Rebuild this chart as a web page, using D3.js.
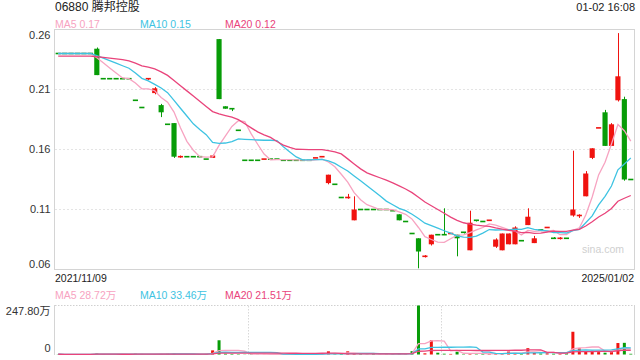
<!DOCTYPE html>
<html>
<head>
<meta charset="utf-8">
<script src="https://cdn.jsdelivr.net/npm/d3@7/dist/d3.min.js"></script>
<style>
  body { margin: 0; background: #fff; }
  text { font-family: "Liberation Sans", Arial, "Noto Sans CJK SC", sans-serif; }
</style>
</head>
<body>
<div id="chart"></div>
<script>
// header texts
const stockTitle = "06880 腾邦控股";
const timeStamp = "01-02 16:08";
const dateLabels = ["2021/11/09", "2025/01/02"];
const priceTicks = [0.26, 0.21, 0.16, 0.11, 0.06];

// daily candles, oldest first
const opens = [
  0.240, 0.240, 0.240, 0.240, 0.240, 0.240, 0.244, 0.219, 0.219, 0.219,
  0.219, 0.219, 0.201, 0.195, 0.218, 0.207, 0.197, 0.181, 0.182, 0.153,
  0.154, 0.154, 0.154, 0.152, 0.153, 0.252, 0.196, 0.194, 0.176, 0.151,
  0.151, 0.151, 0.152, 0.152, 0.152, 0.151, 0.151, 0.151, 0.151, 0.151,
  0.153, 0.154, 0.132, 0.131, 0.120, 0.119, 0.101, 0.110, 0.110, 0.110,
  0.110, 0.110, 0.109, 0.106, 0.100, 0.090, 0.086, 0.070, 0.081, 0.089,
  0.089, 0.090, 0.089, 0.091, 0.076, 0.101, 0.100, 0.101, 0.079, 0.076,
  0.081, 0.081, 0.084, 0.097, 0.082, 0.093, 0.095, 0.086, 0.085, 0.086,
  0.105, 0.104, 0.121, 0.153, 0.178, 0.191, 0.163, 0.201, 0.202, 0.135
];
const highs = [
  0.240, 0.240, 0.240, 0.240, 0.240, 0.240, 0.245, 0.219, 0.219, 0.219,
  0.219, 0.219, 0.201, 0.195, 0.219, 0.212, 0.198, 0.181, 0.182, 0.155,
  0.154, 0.154, 0.154, 0.152, 0.156, 0.252, 0.196, 0.194, 0.176, 0.151,
  0.151, 0.151, 0.152, 0.152, 0.152, 0.151, 0.151, 0.151, 0.151, 0.151,
  0.153, 0.154, 0.139, 0.131, 0.120, 0.123, 0.121, 0.110, 0.110, 0.110,
  0.110, 0.110, 0.109, 0.106, 0.100, 0.090, 0.086, 0.072, 0.089, 0.089,
  0.111, 0.090, 0.089, 0.091, 0.109, 0.101, 0.100, 0.101, 0.086, 0.090,
  0.090, 0.096, 0.084, 0.111, 0.088, 0.093, 0.095, 0.087, 0.087, 0.086,
  0.159, 0.106, 0.142, 0.161, 0.178, 0.193, 0.182, 0.257, 0.204, 0.135
];
const lows = [
  0.240, 0.240, 0.240, 0.240, 0.240, 0.240, 0.222, 0.219, 0.219, 0.219,
  0.219, 0.219, 0.201, 0.195, 0.218, 0.206, 0.187, 0.181, 0.153, 0.153,
  0.154, 0.154, 0.154, 0.152, 0.153, 0.202, 0.194, 0.192, 0.176, 0.151,
  0.151, 0.151, 0.152, 0.152, 0.152, 0.151, 0.151, 0.151, 0.151, 0.151,
  0.153, 0.154, 0.131, 0.131, 0.120, 0.119, 0.101, 0.110, 0.110, 0.110,
  0.110, 0.110, 0.109, 0.101, 0.100, 0.090, 0.061, 0.070, 0.080, 0.089,
  0.089, 0.090, 0.071, 0.090, 0.076, 0.100, 0.100, 0.101, 0.078, 0.076,
  0.081, 0.081, 0.084, 0.097, 0.082, 0.092, 0.095, 0.086, 0.085, 0.086,
  0.104, 0.103, 0.121, 0.152, 0.178, 0.163, 0.163, 0.200, 0.134, 0.135
];
const closes = [
  0.240, 0.240, 0.240, 0.240, 0.240, 0.240, 0.222, 0.219, 0.219, 0.219,
  0.219, 0.219, 0.201, 0.195, 0.219, 0.211, 0.191, 0.181, 0.154, 0.154,
  0.154, 0.154, 0.154, 0.152, 0.155, 0.202, 0.194, 0.193, 0.176, 0.151,
  0.151, 0.151, 0.152, 0.152, 0.152, 0.151, 0.151, 0.151, 0.151, 0.151,
  0.153, 0.154, 0.139, 0.131, 0.120, 0.120, 0.110, 0.110, 0.110, 0.110,
  0.110, 0.110, 0.109, 0.101, 0.100, 0.090, 0.075, 0.071, 0.089, 0.089,
  0.089, 0.090, 0.086, 0.090, 0.099, 0.100, 0.100, 0.101, 0.085, 0.090,
  0.090, 0.095, 0.084, 0.104, 0.086, 0.092, 0.095, 0.086, 0.086, 0.086,
  0.110, 0.105, 0.140, 0.161, 0.178, 0.163, 0.181, 0.221, 0.135, 0.135
];
// closes before the first visible day, only used to warm up the MAs
const priorCloses = [
  0.240, 0.240, 0.240, 0.240, 0.240, 0.231, 0.231, 0.231, 0.231, 0.231,
  0.240, 0.240, 0.240, 0.240, 0.240, 0.240, 0.240, 0.240, 0.240
];
// volume in 万 shares
const volumes = [
  1.2, 0, 2.0, 0.8, 0, 1.5, 5, 2, 0.5, 1,
  0, 1.5, 4, 3, 1, 2, 3, 4, 5, 1,
  1, 0.5, 2, 3, 21, 72, 4, 3, 2, 1,
  2, 1, 1, 0.5, 1, 2, 1, 0.5, 1, 2,
  3, 2, 16, 2, 3, 16, 3, 2, 1, 3,
  1, 2, 3, 3, 2, 17, 247.8, 6, 72, 9,
  4, 3, 14, 2, 6, 2, 3, 4, 5, 6,
  15, 6, 4, 32, 8, 5, 6, 4, 5, 10.6,
  115, 31, 14, 19, 12, 9, 14, 58, 59, 3.6
];

const maDefs = [
  { k: 5, color: "#f7a3c1" },
  { k: 10, color: "#3ec3e2" },
  { k: 20, color: "#e9447b" }
];

const width = 640;
const height = 360;
const left = 55, right = 634;
const n = closes.length;
const red = "#f0130f";
const green = "#079c07";

// moving average, falls back to what is available at the start
const movingAvg = (arr, k, prior = []) => {
  const all = prior.concat(arr);
  return arr.map((_, i) => {
    const end = prior.length + i + 1;
    const slice = all.slice(Math.max(0, end - k), end);
    return d3.mean(slice);
  });
};

// up = red, down = green, flat day takes the direction from the previous close
const isUp = i => {
  if (closes[i] !== opens[i]) return closes[i] > opens[i];
  const prev = i > 0 ? closes[i - 1] : priorCloses[priorCloses.length - 1];
  return closes[i] > prev;
};

const svg = d3.select("#chart")
  .append("svg")
  .attr("width", width)
  .attr("height", height);

const x = d3.scaleBand()
  .domain(d3.range(n))
  .range([left, right])
  .paddingInner(0.2)
  .paddingOuter(0.1);
const cx = i => x(i) + x.bandwidth() / 2;

const y = d3.scaleLinear().domain([0.06, 0.26]).range([269.5, 29.5]);
const yv = d3.scaleLinear().domain([0, d3.max(volumes)]).range([354.5, 305.5]);

// header
svg.append("text")
  .attr("x", left).attr("y", 11)
  .attr("font-size", "12px").attr("fill", "#222")
  .text(stockTitle);
svg.append("text")
  .attr("x", right + 1).attr("y", 11)
  .attr("text-anchor", "end")
  .attr("font-size", "11px").attr("fill", "#222")
  .text(timeStamp);

const legendX = [55, 140, 225];
const priceMAs = maDefs.map(d => movingAvg(closes, d.k, priorCloses));
const volMAs = maDefs.map(d => movingAvg(volumes, d.k));

maDefs.forEach((d, j) => {
  svg.append("text")
    .attr("x", legendX[j]).attr("y", 27.5)
    .attr("font-size", "10.5px").attr("fill", d.color)
    .text(`MA${d.k} ${priceMAs[j][n - 1].toFixed(2)}`);
  svg.append("text")
    .attr("x", legendX[j]).attr("y", 298.5)
    .attr("font-size", "10.5px").attr("fill", d.color)
    .text(`MA${d.k} ${volMAs[j][n - 1].toFixed(2)}万`);
});

// price grid + labels
const grid = svg.append("g");
priceTicks.forEach(t => {
  const py = y(t);
  if (t !== 0.26 && t !== 0.06) {
    grid.append("line")
      .attr("x1", left).attr("x2", right)
      .attr("y1", py).attr("y2", py)
      .attr("stroke", "#e4e4e4")
      .attr("stroke-dasharray", "2,2");
  }
  const ly = Math.min(Math.max(py + 3.5, 39), 267.5);
  svg.append("text")
    .attr("x", 50.5).attr("y", ly)
    .attr("text-anchor", "end")
    .attr("font-size", "11px").attr("fill", "#333")
    .text(t.toFixed(2));
});

// main frame
svg.append("rect")
  .attr("x", left - 0.5).attr("y", 29.5)
  .attr("width", right - left + 1).attr("height", 240)
  .attr("fill", "none")
  .attr("stroke", "#d4d4d4");

// watermark
svg.append("text")
  .attr("x", 582).attr("y", 253)
  .attr("font-size", "10.5px").attr("fill", "#cfcfcf")
  .text("sina.com");

// candles
const candles = svg.append("g");
d3.range(n).forEach(i => {
  const col = isUp(i) ? red : green;
  const mx = Math.round(cx(i)) + 0.5;
  if (highs[i] !== lows[i]) {
    candles.append("line")
      .attr("x1", mx).attr("x2", mx)
      .attr("y1", y(highs[i])).attr("y2", y(lows[i]))
      .attr("stroke", col);
  }
  const top = y(Math.max(opens[i], closes[i]));
  const bot = y(Math.min(opens[i], closes[i]));
  const h = Math.max(bot - top, 1.6);
  candles.append("rect")
    .attr("x", x(i)).attr("y", top - (bot - top < 1.6 ? 0.8 : 0))
    .attr("width", x.bandwidth()).attr("height", h)
    .attr("fill", col);
});

// MA lines on the price chart
const priceLine = d3.line().x((d, i) => cx(i)).y(d => y(d));
maDefs.forEach((d, j) => {
  svg.append("path")
    .datum(priceMAs[j])
    .attr("d", priceLine)
    .attr("fill", "none")
    .attr("stroke", d.color)
    .attr("stroke-width", 1.3);
});

// date labels
svg.append("text")
  .attr("x", left).attr("y", 282)
  .attr("font-size", "10.5px").attr("fill", "#222")
  .text(dateLabels[0]);
svg.append("text")
  .attr("x", right).attr("y", 282)
  .attr("text-anchor", "end")
  .attr("font-size", "10.5px").attr("fill", "#222")
  .text(dateLabels[1]);

// volume panel
const vol = svg.append("g");
vol.append("line")
  .attr("x1", left).attr("x2", right)
  .attr("y1", 305.5).attr("y2", 305.5)
  .attr("stroke", "#d0d0d0").attr("stroke-dasharray", "1.5,1.5");
[left - 0.5, right + 0.5].forEach(vx => {
  vol.append("line")
    .attr("x1", vx).attr("x2", vx)
    .attr("y1", 305).attr("y2", 355)
    .attr("stroke", "#d4d4d4");
});
[1, 2].forEach(k => {
  const vx = Math.round(left + (right - left) * k / 3) + 0.5;
  vol.append("line")
    .attr("x1", vx).attr("x2", vx)
    .attr("y1", 306).attr("y2", 355)
    .attr("stroke", "#d8d8d8").attr("stroke-dasharray", "1.5,1.5");
});

svg.append("text")
  .attr("x", 50.5).attr("y", 314.5)
  .attr("text-anchor", "end")
  .attr("font-size", "11px").attr("fill", "#333")
  .text(`${d3.max(volumes).toFixed(2)}万`);
svg.append("text")
  .attr("x", 50.5).attr("y", 352)
  .attr("text-anchor", "end")
  .attr("font-size", "11px").attr("fill", "#333")
  .text("0");

const barW = 3;
vol.selectAll("rect.bar")
  .data(volumes)
  .join("rect")
  .attr("class", "bar")
  .attr("x", (d, i) => cx(i) - barW / 2)
  .attr("y", d => yv(d))
  .attr("width", barW)
  .attr("height", d => yv(0) - yv(d))
  .attr("fill", (d, i) => isUp(i) ? red : green);

const volLine = d3.line().x((d, i) => cx(i)).y(d => yv(d));
maDefs.forEach((d, j) => {
  vol.append("path")
    .datum(volMAs[j])
    .attr("d", volLine)
    .attr("fill", "none")
    .attr("stroke", d.color)
    .attr("stroke-width", 1.3);
});
</script>
</body>
</html>
